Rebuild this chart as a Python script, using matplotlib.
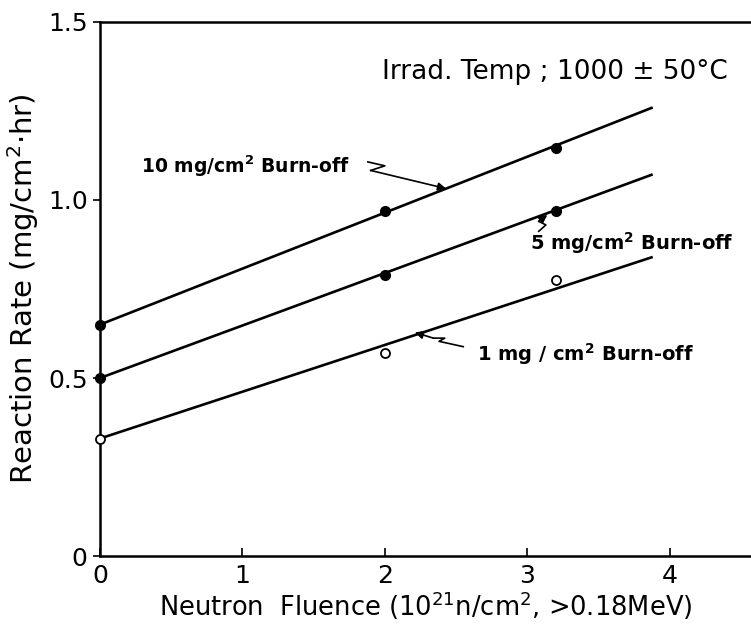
import numpy as np
import matplotlib
matplotlib.use("Agg")
import matplotlib.pyplot as plt

# measured points (fluence 1e21 n/cm2, reaction rate mg/cm2.hr)
fluence_pts = [0.0, 2.0, 3.2]
rate_10mg = [0.65, 0.97, 1.145]
rate_5mg = [0.50, 0.79, 0.97]
rate_1mg = [0.33, 0.57, 0.775]

# fitted straight lines: start at x=0, end at x=3.88
line_x = [0.0, 3.88]
line_10mg = [0.65, 1.26]
line_5mg = [0.50, 1.072]
line_1mg = [0.33, 0.84]

x_ticks = [0, 1, 2, 3, 4]
y_ticks = [0, 0.5, 1.0, 1.5]
y_ticklabels = ["0", "0.5", "1.0", "1.5"]

plt.rcParams['font.family'] = ['DejaVu Sans']

fig = plt.figure(figsize=(7.51, 6.25), dpi=100)
ax = fig.add_axes([100 / 751, 69 / 625, 651 / 751, 534 / 625])

lw = 1.9
for ly in [line_10mg, line_5mg, line_1mg]:
    ax.plot(line_x, ly, color="black", lw=lw, solid_capstyle="butt", zorder=2)

ax.plot(fluence_pts, rate_10mg, "o", ms=7, color="black", clip_on=False, zorder=4)
ax.plot(fluence_pts, rate_5mg, "o", ms=7, color="black", clip_on=False, zorder=4)
ax.plot(fluence_pts, rate_1mg, "o", ms=6.5, mfc="white", mec="black", mew=1.3,
        clip_on=False, zorder=4)


def leader(pts, tip):
    # zigzag leader line ending in an arrow
    xs = [p[0] for p in pts]
    ys = [p[1] for p in pts]
    ax.plot(xs, ys, color="black", lw=1.2, zorder=3)
    ax.annotate("", xy=tip, xytext=pts[-1],
                arrowprops=dict(arrowstyle="-|>", color="black", lw=1.2,
                                mutation_scale=12, shrinkA=0, shrinkB=0))


ax.text(0.29, 1.096, "10 mg/cm$^\\mathbf{2}$ Burn-off", fontsize=13.5, fontweight="bold",
        ha="left", va="center")
leader([(1.88, 1.107), (2.0, 1.096), (1.9, 1.083)], (2.43, 1.032))

ax.text(3.02, 0.88, "5 mg/cm$^\\mathbf{2}$ Burn-off", fontsize=14, fontweight="bold",
        ha="left", va="center")
leader([(3.08, 0.912), (3.13, 0.93), (3.08, 0.94)], (3.14, 0.958))

ax.text(2.65, 0.566, "1 mg / cm$^\\mathbf{2}$ Burn-off", fontsize=14, fontweight="bold",
        ha="left", va="center")
leader([(2.55, 0.588), (2.38, 0.603), (2.42, 0.612), (2.34, 0.612)], (2.21, 0.628))

ax.text(1.98, 1.36, "Irrad. Temp ; 1000 ± 50°C", fontsize=19, ha="left", va="center")

ax.set_xlim(0, 4.57)
ax.set_ylim(0, 1.5)
ax.set_xticks(x_ticks)
ax.set_yticks(y_ticks)
ax.set_yticklabels(y_ticklabels)
ax.tick_params(axis="x", direction="in", length=6, width=1.2, labelsize=18, pad=6)
ax.tick_params(axis="y", direction="out", length=5, width=1.2, labelsize=18, pad=4)

for side in ["left", "bottom", "top"]:
    ax.spines[side].set_linewidth(1.8)
ax.spines["right"].set_visible(False)

ax.set_xlabel("Neutron  Fluence (10$^{21}$n/cm$^2$, >0.18MeV)", fontsize=18.5, labelpad=1)
ax.set_ylabel("Reaction Rate (mg/cm$^2$·hr)", fontsize=21, labelpad=5)

fig.savefig("out.png", dpi=100)
